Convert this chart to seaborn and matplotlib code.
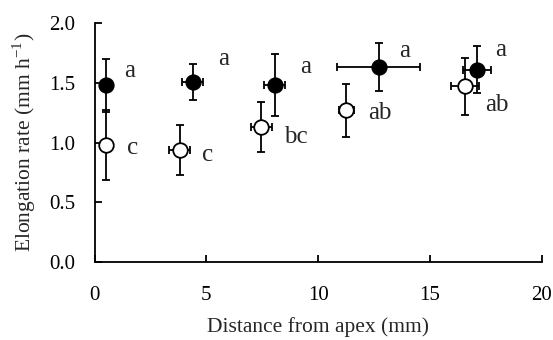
import numpy as np
import pandas as pd
import matplotlib
matplotlib.use("Agg")
import matplotlib.pyplot as plt
import seaborn as sns

# ==================================
# DATA
# ==================================
dist_filled = [0.5, 4.4, 8.05, 12.7, 17.1]
rate_filled = [1.48, 1.51, 1.48, 1.63, 1.61]
yerr_filled = [0.22, 0.15, 0.26, 0.20, 0.195]
xerr_filled = [0.0, 0.47, 0.48, 1.86, 0.63]
letters_filled = ["a", "a", "a", "a", "a"]

dist_open = [0.5, 3.8, 7.45, 11.25, 16.55]
rate_open = [0.98, 0.94, 1.13, 1.27, 1.47]
yerr_open = [0.29, 0.21, 0.21, 0.22, 0.24]
xerr_open = [0.0, 0.47, 0.47, 0.33, 0.63]
letters_open = ["c", "c", "bc", "ab", "ab"]

# label offsets in points
offs_filled = [(17, 10), (22, 16), (22, 13), (19, 12), (17, 14)]
offs_open = [(19, -2), (20, -4), (25, -7), (24, -2), (23, -13)]

df = pd.DataFrame({
    "dist": dist_filled + dist_open,
    "rate": rate_filled + rate_open,
    "group": ["filled"] * 5 + ["open"] * 5,
})

# ==================================
# STYLE
# ==================================
sns.set_style("ticks")
plt.rcParams["font.family"] = ["Liberation Serif", "DejaVu Serif"]
plt.rcParams["mathtext.fontset"] = "stix"

fig = plt.figure(figsize=(5.53, 3.40), dpi=100)
ax = fig.add_axes([0.171, 0.229, 0.809, 0.703])

lw = 1.3
ax.errorbar(dist_filled, rate_filled, yerr=yerr_filled, xerr=xerr_filled,
            fmt="none", ecolor="black", elinewidth=lw, capsize=3.2,
            capthick=lw, zorder=2)
ax.errorbar(dist_open, rate_open, yerr=yerr_open, xerr=xerr_open,
            fmt="none", ecolor="black", elinewidth=lw, capsize=3.2,
            capthick=lw, zorder=2)

sns.scatterplot(data=df[df["group"] == "filled"], x="dist", y="rate",
                ax=ax, s=110, color="black", edgecolor="black",
                linewidth=1.2, zorder=3, legend=False)
sns.scatterplot(data=df[df["group"] == "open"], x="dist", y="rate",
                ax=ax, s=110, color="white", edgecolor="black",
                linewidth=1.3, zorder=3, legend=False)

for x, y, t, o in zip(dist_filled, rate_filled, letters_filled, offs_filled):
    ax.annotate(t, (x, y), xytext=o, textcoords="offset points",
                fontsize=18, ha="center", va="center")
for x, y, t, o in zip(dist_open, rate_open, letters_open, offs_open):
    ax.annotate(t, (x, y), xytext=o, textcoords="offset points",
                fontsize=18, ha="center", va="center")

ax.set_xlim(0, 20)
ax.set_ylim(0, 2.0)
ax.set_xticks([0, 5, 10, 15, 20])
ax.set_yticks([0.0, 0.5, 1.0, 1.5, 2.0])
ax.set_yticklabels(["0.0", "0.5", "1.0", "1.5", "2.0"])

ax.tick_params(direction="in", length=5, width=lw, labelsize=15,
               colors="black")
ax.tick_params(axis="x", pad=17)
ax.tick_params(axis="y", pad=14)
for s in ["top", "right"]:
    ax.spines[s].set_visible(False)
for s in ["left", "bottom"]:
    ax.spines[s].set_linewidth(lw)
    ax.spines[s].set_color("black")

ax.set_xlabel("Distance from apex (mm)", fontsize=15.5, labelpad=9)
ax.set_ylabel(r"Elongation rate (mm h$^{\mathregular{-1}}$)", fontsize=15.5,
              labelpad=8)

fig.savefig("out.png", dpi=100)
